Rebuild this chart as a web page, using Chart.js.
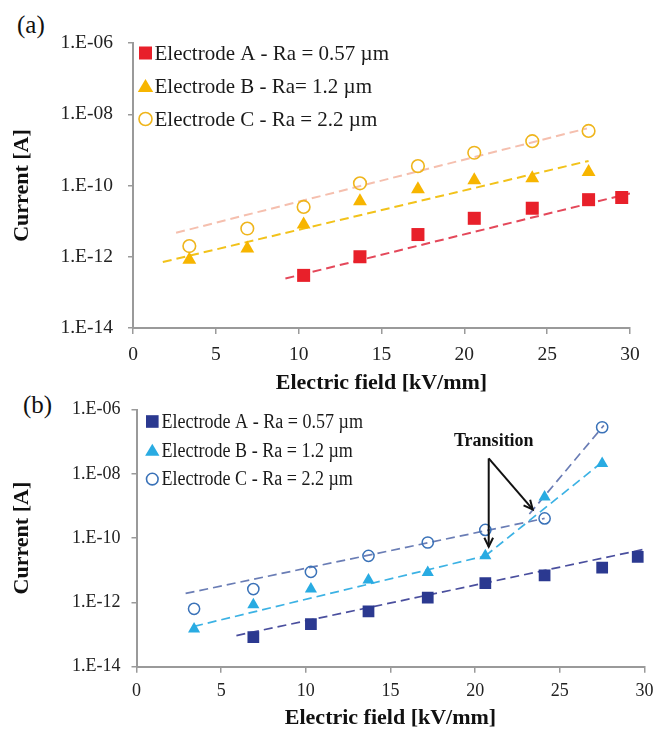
<!DOCTYPE html>
<html>
<head>
<meta charset="utf-8">
<script src="https://cdn.jsdelivr.net/npm/chart.js@4.4.1/dist/chart.umd.min.js"></script>
<style>
body{margin:0;background:#fff;width:661px;height:733px;position:relative;overflow:hidden;font-family:"Liberation Serif",serif}
canvas{position:absolute;left:0}
#ca{top:0}
#cb{top:385px}
.tag{position:absolute;font-size:25px;color:#111;line-height:28px}
</style>
</head>
<body>
<div class="tag" style="left:17px;top:11px">(a)</div>
<div class="tag" style="left:23px;top:391px">(b)</div>
<canvas id="ca" width="661" height="398"></canvas>
<canvas id="cb" width="661" height="348"></canvas>
<script>
// field values, kV/mm
let fieldBC = [3.4, 6.9, 10.3, 13.7, 17.2, 20.6, 24.1, 27.5];
let fieldA_a = [10.3, 13.7, 17.2, 20.6, 24.1, 27.5, 29.5];
let fieldA_b = [6.9, 10.3, 13.7, 17.2, 20.6, 24.1, 27.5, 29.6];

// panel (a) currents, A
let currA_a = [3.0e-13, 1.0e-12, 4.2e-12, 1.2e-11, 2.3e-11, 4.0e-11, 4.6e-11];
let currB_a = [8.3e-13, 1.7e-12, 8.1e-12, 3.6e-11, 7.9e-11, 1.4e-10, 1.6e-10, 2.4e-10];
let currC_a = [2.0e-12, 6.2e-12, 2.5e-11, 1.15e-10, 3.5e-10, 8.3e-10, 1.75e-9, 3.4e-9];

// panel (b) currents, A
let currA_b = [8.3e-14, 2.1e-13, 5.3e-13, 1.4e-12, 4.0e-12, 6.9e-12, 1.2e-11, 2.6e-11];
let currB_b = [1.5e-13, 8.5e-13, 2.6e-12, 5.0e-12, 8.5e-12, 2.8e-11, 1.9e-9, 2.1e-8];
let currC_b = [6.3e-13, 2.6e-12, 8.9e-12, 2.8e-11, 7.3e-11, 1.8e-10, 4.1e-10, 2.8e-7];

// fitted trend lines: [x0, x1] and [y0, y1]
let trendA_a = [[9.2, 30], [2.45e-13, 6.0e-11]];
let trendB_a = [[1.8, 27.5], [7.1e-13, 4.9e-10]];
let trendC_a = [[2.6, 27.4], [4.7e-12, 4.0e-9]];
let trendA_b = [[5.9, 30], [9.3e-14, 4.5e-11]];
let trendB_b1 = [[3.4, 20.6], [1.8e-13, 2.8e-11]];
let trendB_b2 = [[20.6, 27.5], [2.8e-11, 2.3e-8]];
let trendC_b1 = [[2.9, 24.1], [1.9e-12, 4.1e-10]];
let trendC_b2 = [[23.2, 27.6], [5.6e-10, 3.2e-7]];

// "Transition" note: text spot, arrow start, arrow ends
let noteAt = [21.1, 1.05e-7];
let arrowFrom = [20.8, 3.0e-8];
let arrowTo = [[20.8, 5.4e-11], [23.4, 7.8e-10]];

let labelsA = ["Electrode A - Ra = 0.57 \u00b5m", "Electrode B - Ra= 1.2 \u00b5m", "Electrode C - Ra = 2.2 \u00b5m"];
let labelsB = ["Electrode A - Ra = 0.57 \u00b5m", "Electrode B - Ra = 1.2 \u00b5m", "Electrode C - Ra = 2.2 \u00b5m"];
let yTickExp = [-14, -12, -10, -8, -6];
let xTicks = [0, 5, 10, 15, 20, 25, 30];

const serif = '"Liberation Serif", "Times New Roman", serif';

function pts(xs, ys) {
  return xs.map((x, i) => ({x: x, y: ys[i]}));
}
function line(t) {
  return pts(t[0], t[1]);
}

function trendSet(t, color, w) {
  return {
    data: line(t), showLine: true, pointRadius: 0, borderColor: color,
    borderWidth: w, borderDash: [9, 5], order: 2, fill: false
  };
}

function drawMark(ctx, kind, color, x, y, r) {
  ctx.beginPath();
  if (kind == 'rect') {
    ctx.fillStyle = color;
    ctx.fillRect(x - r, y - r, 2 * r, 2 * r);
  } else if (kind == 'triangle') {
    ctx.fillStyle = color;
    ctx.moveTo(x, y - r);
    ctx.lineTo(x + r * 1.1, y + r * 0.85);
    ctx.lineTo(x - r * 1.1, y + r * 0.85);
    ctx.closePath();
    ctx.fill();
  } else {
    ctx.strokeStyle = color;
    ctx.lineWidth = 1.6;
    ctx.arc(x, y, r, 0, Math.PI * 2);
    ctx.stroke();
  }
}

const boxLegend = {
  id: 'boxLegend',
  afterDraw(chart, args, o) {
    const ctx = chart.ctx, area = chart.chartArea;
    ctx.save();
    o.items.forEach((it, i) => {
      const y = area.top + o.rowTop + i * o.rowGap;
      drawMark(ctx, it.kind, it.color, area.left + o.markX, y, it.r);
      ctx.save();
      ctx.fillStyle = '#1a1a1a';
      ctx.font = o.size + 'px ' + serif;
      ctx.textBaseline = 'middle';
      ctx.translate(area.left + o.textX, y + 1);
      ctx.scale(o.squeeze, 1);
      ctx.fillText(it.text, 0, 0);
      ctx.restore();
    });
    ctx.restore();
  }
};

function arrowHead(ctx, x0, y0, x1, y1) {
  const a = Math.atan2(y1 - y0, x1 - x0);
  const len = 10, sp = 0.45;
  ctx.beginPath();
  ctx.moveTo(x1 - len * Math.cos(a - sp), y1 - len * Math.sin(a - sp));
  ctx.lineTo(x1, y1);
  ctx.lineTo(x1 - len * Math.cos(a + sp), y1 - len * Math.sin(a + sp));
  ctx.stroke();
}

const transNote = {
  id: 'transNote',
  afterDraw(chart) {
    const ctx = chart.ctx, sx = chart.scales.x, sy = chart.scales.y;
    const x0 = sx.getPixelForValue(arrowFrom[0]), y0 = sy.getPixelForValue(arrowFrom[1]);
    ctx.save();
    ctx.strokeStyle = '#111';
    ctx.lineWidth = 2;
    arrowTo.forEach(p => {
      const x1 = sx.getPixelForValue(p[0]), y1 = sy.getPixelForValue(p[1]);
      ctx.beginPath();
      ctx.moveTo(x0, y0);
      ctx.lineTo(x1, y1);
      ctx.stroke();
      arrowHead(ctx, x0, y0, x1, y1);
    });
    ctx.fillStyle = '#111';
    ctx.font = 'bold 18px ' + serif;
    ctx.textAlign = 'center';
    ctx.textBaseline = 'middle';
    ctx.fillText('Transition', sx.getPixelForValue(noteAt[0]), sy.getPixelForValue(noteAt[1]));
    ctx.restore();
  }
};

function axes(yw, xh, xpad, ypad, fs) {
  return {
    x: {
      type: 'linear', min: 0, max: 30,
      afterBuildTicks(s) { s.ticks = xTicks.map(v => ({value: v})); },
      ticks: {padding: xpad, color: '#222', font: {family: serif, size: fs}, autoSkip: false, maxRotation: 0},
      grid: {drawOnChartArea: false, tickLength: 6, color: '#9a9a9a', lineWidth: 1.5},
      border: {color: '#9a9a9a', width: 2},
      title: {display: true, text: 'Electric field [kV/mm]', color: '#111',
        font: {family: serif, size: 22, weight: 'bold'}, padding: {top: 0, bottom: 1}},
      afterFit(s) { s.height = xh; }
    },
    y: {
      type: 'logarithmic', min: 1e-14, max: 1e-6,
      afterBuildTicks(s) { s.ticks = yTickExp.map(e => ({value: Math.pow(10, e)})); },
      ticks: {
        padding: ypad, color: '#222', font: {family: serif, size: fs}, autoSkip: false,
        callback: v => '1.E-' + String(-Math.round(Math.log10(v))).padStart(2, '0')
      },
      grid: {drawOnChartArea: false, tickLength: 5, color: '#9a9a9a', lineWidth: 1.5},
      border: {color: '#9a9a9a', width: 2},
      title: {display: true, text: 'Current [A]', color: '#111',
        font: {family: serif, size: 22, weight: 'bold'}, padding: {top: 9, bottom: 0}},
      afterFit(s) { s.width = yw; }
    }
  };
}

new Chart(document.getElementById('ca'), {
  type: 'scatter',
  data: {
    datasets: [
      {data: pts(fieldA_a, currA_a), pointStyle: 'rect', pointRadius: 9.2, backgroundColor: '#e8202a', borderWidth: 0, order: 1},
      {data: pts(fieldBC, currB_a), pointStyle: 'triangle', pointRadius: 8, backgroundColor: '#f7b500', borderWidth: 0, order: 1},
      {data: pts(fieldBC, currC_a), pointStyle: 'circle', pointRadius: 6.3, backgroundColor: 'rgba(255,255,255,0)', borderColor: '#efb51c', borderWidth: 1.6, order: 1},
      trendSet(trendA_a, '#e4485a', 2),
      trendSet(trendB_a, '#f2c21a', 2),
      trendSet(trendC_a, '#f5bfae', 2)
    ]
  },
  options: {
    responsive: false, animation: false, devicePixelRatio: 1,
    layout: {padding: {top: 43, right: 31, left: 0, bottom: 0}},
    plugins: {
      legend: {display: false}, tooltip: {enabled: false},
      boxLegend: {
        markX: 12.5, textX: 21.5, rowTop: 10, rowGap: 33, size: 21, squeeze: 1,
        items: [
          {kind: 'rect', color: '#e8202a', r: 6.5, text: labelsA[0]},
          {kind: 'triangle', color: '#f7b500', r: 7, text: labelsA[1]},
          {kind: 'circle', color: '#efb51c', r: 6.5, text: labelsA[2]}
        ]
      }
    },
    scales: axes(133, 70, 9, 15, 19.5)
  },
  plugins: [boxLegend]
});

new Chart(document.getElementById('cb'), {
  type: 'scatter',
  data: {
    datasets: [
      {data: pts(fieldA_b, currA_b), pointStyle: 'rect', pointRadius: 8.3, backgroundColor: '#2b3990', borderWidth: 0, order: 1},
      {data: pts(fieldBC, currB_b), pointStyle: 'triangle', pointRadius: 7, backgroundColor: '#29abe2', borderWidth: 0, order: 1},
      {data: pts(fieldBC, currC_b), pointStyle: 'circle', pointRadius: 5.6, backgroundColor: 'rgba(255,255,255,0)', borderColor: '#3a72b8', borderWidth: 1.5, order: 1},
      trendSet(trendA_b, '#4a4f9e', 1.7),
      trendSet(trendB_b1, '#3cb2e4', 1.7),
      trendSet(trendB_b2, '#3cb2e4', 1.7),
      trendSet(trendC_b1, '#6a7db5', 1.7),
      trendSet(trendC_b2, '#6a7db5', 1.7)
    ]
  },
  options: {
    responsive: false, animation: false, devicePixelRatio: 1,
    layout: {padding: {top: 24.5, right: 13, left: 0, bottom: 0}},
    plugins: {
      legend: {display: false}, tooltip: {enabled: false},
      boxLegend: {
        markX: 15.8, textX: 25, rowTop: 12, rowGap: 28.8, size: 20.5, squeeze: 0.88,
        items: [
          {kind: 'rect', color: '#2b3990', r: 6.3, text: labelsB[0]},
          {kind: 'triangle', color: '#29abe2', r: 6.5, text: labelsB[1]},
          {kind: 'circle', color: '#3a72b8', r: 5.8, text: labelsB[2]}
        ]
      }
    },
    scales: axes(136.5, 66.3, 7.5, 11, 18)
  },
  plugins: [boxLegend, transNote]
});
</script>
</body>
</html>
